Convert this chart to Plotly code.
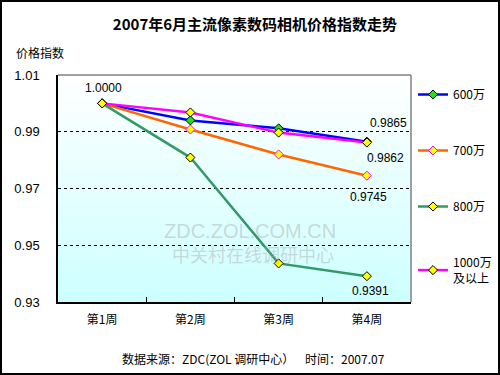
import plotly.graph_objects as go

weeks = ["第1周", "第2周", "第3周", "第4周"]
s600 = [1.0000, 0.9940, 0.9912, 0.9865]
s700 = [1.0000, 0.9908, 0.9820, 0.9745]
s800 = [1.0000, 0.9809, 0.9436, 0.9391]
s1000 = [1.0000, 0.9968, 0.9897, 0.9862]
names = ["600万", "700万", "800万", "1000万<br>及以上"]
y_ticks = [0.93, 0.95, 0.97, 0.99, 1.01]

W, H = 500, 375
ML, MR, MT, MB = 58, 89, 75, 73
PW, PH = W - ML - MR, H - MT - MB

CJK = "Noto Sans CJK SC, Liberation Sans, sans-serif"
LAT = "Liberation Sans, Arial, sans-serif"

fig = go.Figure()

styles = [
    (s600, "#0000FF", "#22DD22", "#000000"),
    (s700, "#FF6600", "#FFFF00", "#FF00FF"),
    (s800, "#339966", "#FFFF00", "#000000"),
    (s1000, "#FF00FF", "#FFFF00", "#000000"),
]
for i, (vals, lc, mf, ml) in enumerate(styles):
    fig.add_trace(go.Scatter(
        x=weeks, y=vals, name=names[i], mode="lines+markers",
        legendgroup=f"g{i}",
        line=dict(color=lc, width=2.5),
        marker=dict(symbol="diamond", size=7, color=mf, line=dict(color=ml, width=1)),
    ))

# gradient background strips
N = 60
for k in range(N):
    f = 1 - (k + 0.5) / N
    r = int(round(255 - (255 - 0xCC) * f))
    fig.add_shape(type="rect", xref="paper", yref="paper", x0=0, x1=1,
                  y0=k / N, y1=(k + 1) / N + 0.002, fillcolor=f"rgb({r},255,255)",
                  line=dict(width=0), layer="below")

# top and right gray borders of plot area
fig.add_shape(type="line", xref="paper", yref="paper", x0=0, x1=1, y0=1, y1=1,
              line=dict(color="#808080", width=1.5), layer="above")
fig.add_shape(type="line", xref="paper", yref="paper", x0=1, x1=1, y0=0, y1=1,
              line=dict(color="#808080", width=1.5), layer="above")

# outer frame
fig.add_shape(type="rect", xref="paper", yref="paper",
              x0=(-ML + 1) / PW, x1=(W - ML - 1) / PW,
              y0=-(MB - 1) / PH, y1=1 + (MT - 1) / PH,
              line=dict(color="#000000", width=2), fillcolor="rgba(0,0,0,0)")

ann = []
# value labels
ann.append(dict(x=weeks[0], y=s600[0], text=f"{s600[0]:.4f}", showarrow=False,
                xshift=1, yshift=15))
ann.append(dict(x=weeks[3], y=s600[3], text=f"{s600[3]:.4f}", showarrow=False,
                xshift=22, yshift=19))
ann.append(dict(x=weeks[3], y=s1000[3], text=f"{s1000[3]:.4f}", showarrow=False,
                xshift=19, yshift=-15))
ann.append(dict(x=weeks[3], y=s700[3], text=f"{s700[3]:.4f}", showarrow=False,
                xshift=2, yshift=-21))
ann.append(dict(x=weeks[3], y=s800[3], text=f"{s800[3]:.4f}", showarrow=False,
                xshift=4, yshift=-15))
for a in ann:
    a["font"] = dict(family=LAT, size=12, color="#000000")

# watermark
ann.append(dict(xref="paper", yref="paper", x=(250 - ML) / PW, y=1 - (231 - MT) / PH,
                yanchor="middle", text="ZDC.ZOL.COM.CN", showarrow=False,
                font=dict(family=LAT, size=20, color="rgba(170,170,170,0.45)")))
ann.append(dict(xref="paper", yref="paper", x=(253 - ML) / PW, y=1 - (254 - MT) / PH,
                yanchor="middle", text="中关村在线调研中心", showarrow=False,
                font=dict(family=CJK, size=18, color="rgba(170,170,170,0.45)")))
# y axis title
ann.append(dict(xref="paper", yref="paper", x=(14 - ML) / PW, y=1 + (75 - 53) / PH,
                xanchor="left", yanchor="middle", text="价格指数", showarrow=False,
                font=dict(family=CJK, size=12, color="#000000")))
# footer
ann.append(dict(xref="paper", yref="paper", x=(253 - ML) / PW, y=-(358 - 302) / PH,
                yanchor="middle",
                text="数据来源：ZDC(ZOL 调研中心）    时间：2007.07", showarrow=False,
                font=dict(family=CJK, size=12, color="#000000")))

fig.update_layout(
    width=W, height=H, autosize=False,
    margin=dict(l=ML, r=MR, t=MT, b=MB, pad=0, autoexpand=False),
    paper_bgcolor="#FFFFFF", plot_bgcolor="#FFFFFF",
    title=dict(text="<b>2007年6月主流像素数码相机价格指数走势</b>", x=255 / W, xanchor="center",
               y=1 - 25 / H, yanchor="middle",
               font=dict(family=CJK, size=15, color="#000000")),
    showlegend=True,
    legend=dict(x=(413 - ML) / PW, y=1 - (80 - MT) / PH,
                xanchor="left", yanchor="top",
                tracegroupgap=37, itemwidth=30, bgcolor="rgba(0,0,0,0)",
                font=dict(family=CJK, size=12, color="#000000")),
    annotations=ann,
    xaxis=dict(type="category", showgrid=False, showline=True, linecolor="#000000", linewidth=1.5,
               ticks="inside", ticklen=5, tickcolor="#000000", tickson="boundaries",
               tickfont=dict(family=CJK, size=12, color="#000000"), ticklabelstandoff=6,
               range=[-0.5, 3.5], zeroline=False),
    yaxis=dict(range=[0.93, 1.01], tickvals=y_ticks, tickformat=".2f",
               showgrid=True, gridcolor="#000000", gridwidth=1, griddash="3px,3px",
               showline=True, linecolor="#000000", linewidth=1.5, ticks="",
               tickfont=dict(family=LAT, size=13, color="#000000"), ticklabelstandoff=14,
               zeroline=False),
)

fig.write_html("out.html",
               config={"displayModeBar": False, "responsive": False},
               post_script="document.body.style.margin='0';document.body.style.overflow='hidden';")
